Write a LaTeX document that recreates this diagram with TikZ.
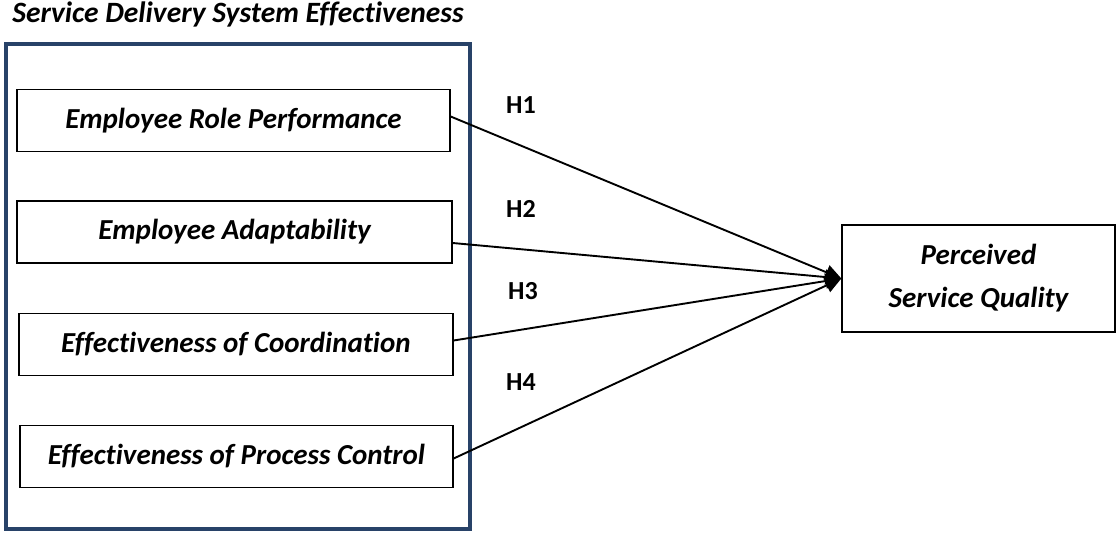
\documentclass[tikz,border=0pt]{standalone}
\usepackage{fontspec}
\setmainfont[Ligatures=NoCommon]{Carlito}
\usetikzlibrary{arrows.meta}
\definecolor{navy}{RGB}{40,66,104}
\begin{document}
\begin{tikzpicture}[x=1pt,y=-1pt,
  box/.style={draw=black,line width=1.3pt,minimum height=62pt,inner sep=0pt,font=\fontsize{29}{35}\selectfont\bfseries\itshape},
  hlab/.style={font=\fontsize{26}{30}\selectfont\bfseries},
  link/.style={line width=1.9pt,-{Triangle[length=16pt,width=15pt]}}]
\useasboundingbox (0,0) rectangle (1116,534);
\node[font=\fontsize{29.5}{34}\selectfont\bfseries\itshape] (title) at (238,14) {Service Delivery System Effectiveness};
\draw[navy,line width=3.8pt] (6,44) rectangle (470,529);
\node[box,minimum width=433pt] (b1) at (233.5,120.5) {Employee Role Performance};
\node[box,minimum width=435pt] (b2) at (234.5,232) {Employee Adaptability};
\node[box,minimum width=434pt] (b3) at (236,344.5) {Effectiveness of Coordination};
\node[box,minimum width=433pt] (b4) at (236.5,456.5) {Effectiveness of Process Control};
\node[box,minimum width=273pt,minimum height=107pt,align=center] (p) at (978.5,278.5) {Perceived\\[8pt]Service Quality};
\draw[link] ([yshift=4pt]b1.east) -- (p.west);
\draw[link] ([yshift=-11pt]b2.east) -- (p.west);
\draw[link] ([yshift=4pt]b3.east) -- (p.west);
\draw[link] ([yshift=-2pt]b4.east) -- (p.west);
\node[hlab] (h1) at (521,105) {H1};
\node[hlab] (h2) at (521,209) {H2};
\node[hlab] (h3) at (523,291) {H3};
\node[hlab] (h4) at (521,382) {H4};
\end{tikzpicture}
\end{document}
